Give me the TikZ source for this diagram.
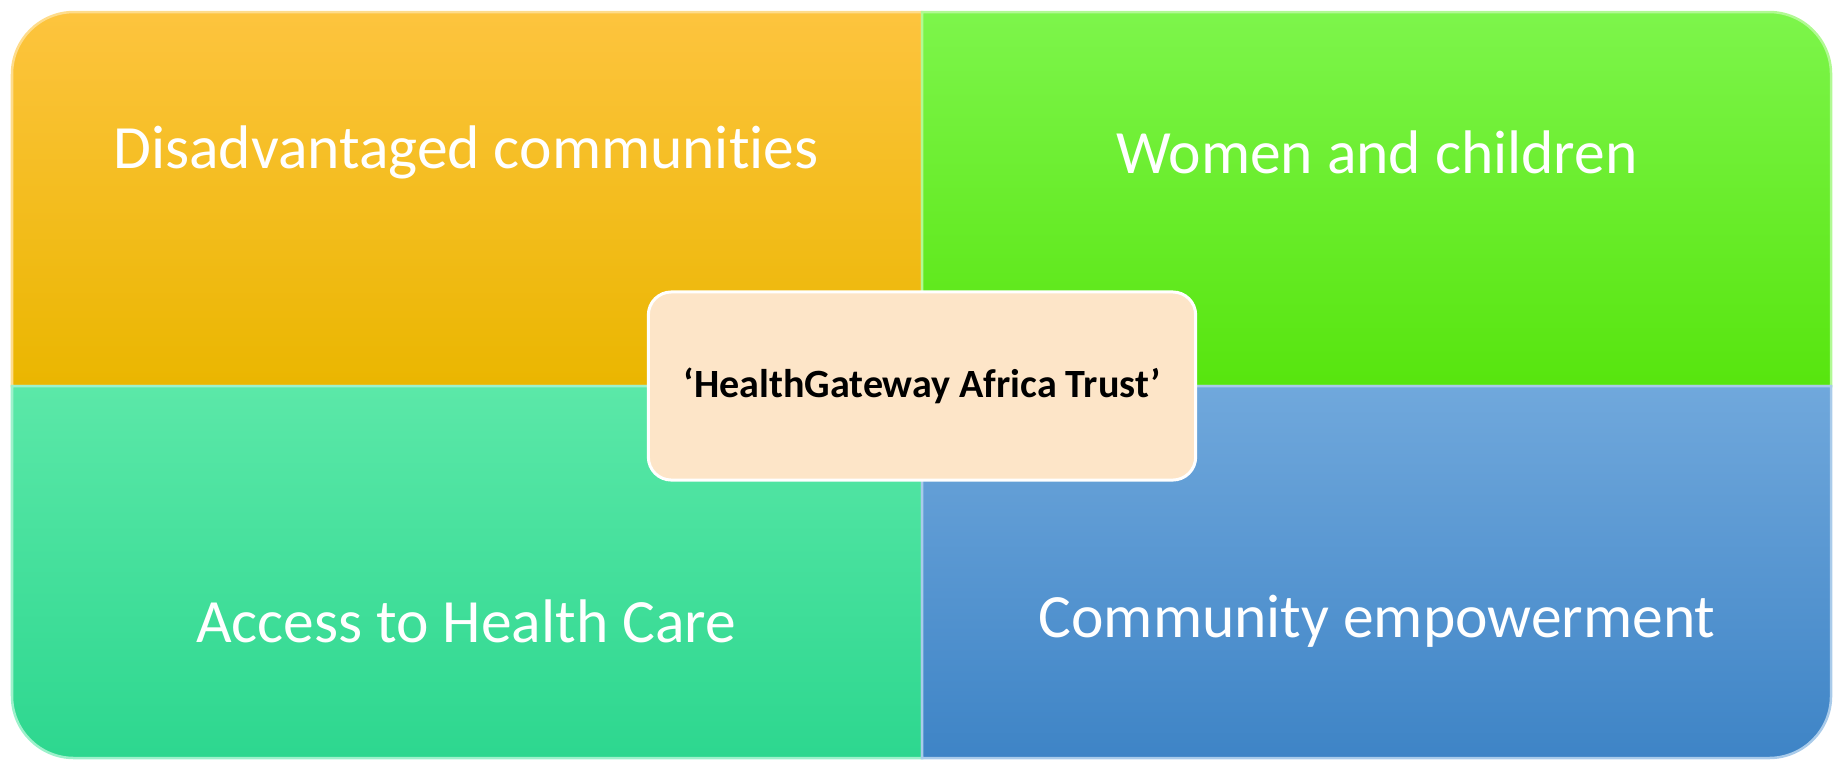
\documentclass[tikz,border=0pt]{standalone}
\usepackage{fontspec}
\setmainfont{Carlito}[Ligatures=NoCommon]
\usetikzlibrary{positioning}

\definecolor{orangeTop}{HTML}{FDC43E}
\definecolor{orangeMid}{HTML}{FFC503}
\definecolor{orangeBot}{HTML}{EAB600}
\definecolor{greenTop}{HTML}{7DF54B}
\definecolor{greenMid}{HTML}{66F51B}
\definecolor{greenBot}{HTML}{57E50E}
\definecolor{tealTop}{HTML}{5BE8A8}
\definecolor{tealBot}{HTML}{2DD78F}
\definecolor{blueTop}{HTML}{70A8DC}
\definecolor{blueBot}{HTML}{3E84C6}
\definecolor{hubFill}{HTML}{FDE5C8}

\begin{document}
\begin{tikzpicture}[x=0.01cm,y=-0.01cm,
	rim/.style={line width=0.025cm},
	label/.style={text=white, font=\fontsize{17.5}{21}\selectfont},
	hub/.style={draw=white, line width=0.03cm, fill=hubFill, rounded corners=0.23cm,
		minimum width=5.47cm, minimum height=1.88cm, font=\fontsize{11.4}{14}\selectfont\bfseries}]
	\useasboundingbox (0,0) rectangle (1837,760);
	\shade[top color=orangeTop, middle color=orangeMid, bottom color=orangeBot, draw=orangeTop!60!white, rim]
	(12,386) [rounded corners=0.62cm] -- (12,12) [sharp corners] -- (922,12) -- (922,386) -- cycle;
	\shade[top color=greenTop, middle color=greenMid, bottom color=greenBot, draw=greenTop!60!white, rim]
	(922,386) -- (922,12) [rounded corners=0.62cm] -- (1831,12) [sharp corners] -- (1831,386) -- cycle;
	\shade[top color=tealTop, bottom color=tealBot, draw=tealTop!60!white, rim]
	(922,386) -- (12,386) [rounded corners=0.62cm] -- (12,758) [sharp corners] -- (922,758) -- cycle;
	\shade[top color=blueTop, bottom color=blueBot, draw=blueTop!60!white, rim]
	(922,386) -- (922,758) [rounded corners=0.62cm] -- (1831,758) [sharp corners] -- (1831,386) -- cycle;
	\node[label] (disadv) at (466,152) {Disadvantaged communities};
	\node[label] (women) at (1377,152) {Women and children};
	\node[label] (access) at (466,621) {Access to Health Care};
	\node[label] (empower) at (1377,621) {Community empowerment};
	\node[hub] (trust) at (922,386) {‘HealthGateway Africa Trust’};
\end{tikzpicture}
\end{document}
